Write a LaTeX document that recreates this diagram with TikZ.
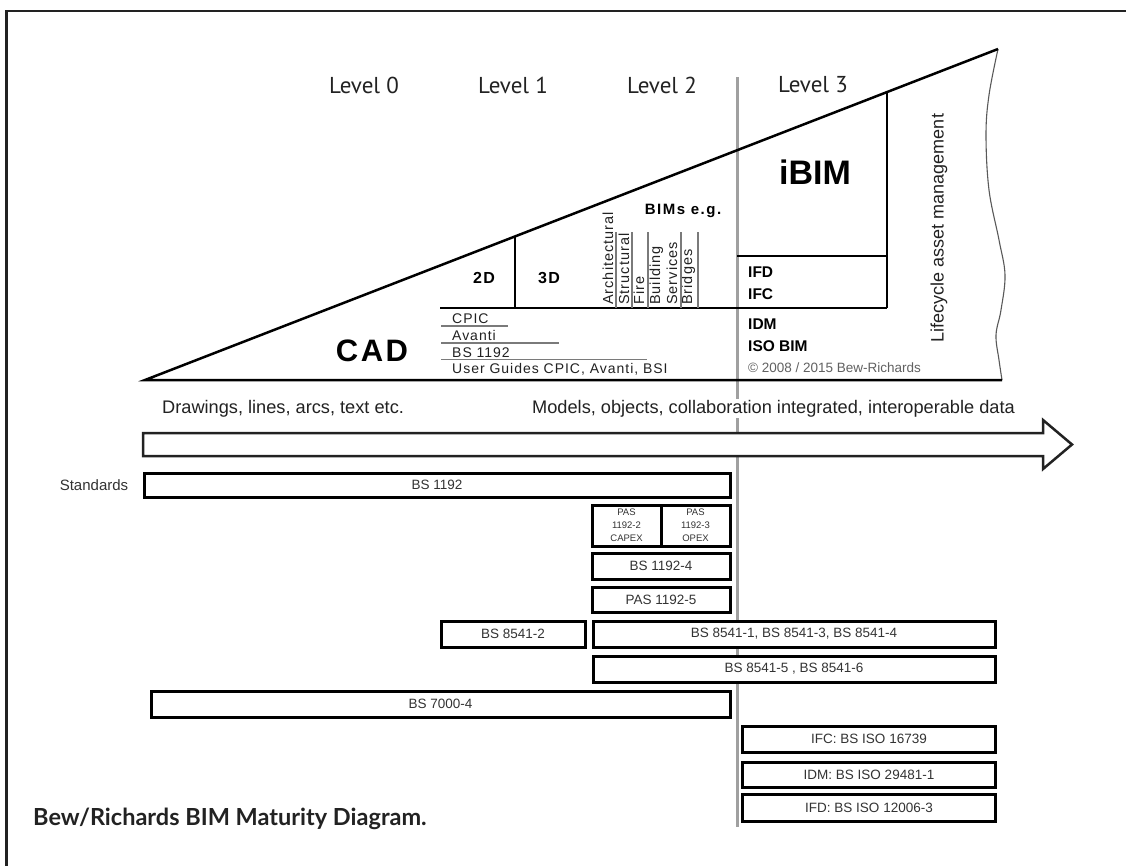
\documentclass[tikz,border=0pt]{standalone}
\usepackage{fontspec}
\setmainfont{Liberation Sans}
\newfontfamily\lvlfont{PT Sans}
\newfontfamily\capfont{Lato}
\newfontfamily\lsList[LetterSpace=7]{Liberation Sans}
\newfontfamily\lsBoldA[LetterSpace=8]{Liberation Sans}
\newfontfamily\lsBoldB[LetterSpace=10]{Liberation Sans}
\definecolor{inkdark}{HTML}{222222}
\definecolor{boxtext}{HTML}{333333}
\definecolor{levelgray}{HTML}{A0A0A0}
\definecolor{sepgray}{HTML}{7A7A7A}
\tikzset{
  framestyle/.style={draw=inkdark, line width=2.5pt},
  levelline/.style={draw=levelgray, line width=3pt},
  heavy/.style={draw=black, line width=2.5pt},
  sepline/.style={draw=sepgray, line width=1.1pt},
  ulline/.style={draw=sepgray, line width=1.2pt},
  wavy/.style={draw=black!65, line width=1.1pt},
  stdbox/.style={draw=black, line width=3pt, fill=white, inner sep=0pt,
    text=boxtext, font=\fontsize{13.5}{15}\selectfont},
  pasbox/.style={stdbox, align=center, font=\fontsize{9.5}{13}\selectfont},
  lvltext/.style={inner sep=0pt, text=inkdark, font=\lvlfont\fontsize{23}{26}\selectfont},
  listtext/.style={inner sep=0pt, anchor=base west, text=inkdark, font=\lsList\fontsize{14}{16}\selectfont},
  rottext/.style={inner sep=0pt, anchor=base west, rotate=90, text=inkdark, font=\lsList\fontsize{14.5}{16}\selectfont},
  boldsmall/.style={inner sep=0pt, anchor=base west, text=black, font=\bfseries\fontsize{15.5}{17}\selectfont},
  bigarrow/.style={draw=inkdark, line width=2.5pt, fill=white, line join=miter},
  bandtext/.style={inner sep=0pt, anchor=base west, text=inkdark, font=\fontsize{18.2}{20}\selectfont},
}
\begin{document}
\begin{tikzpicture}[x=1pt,y=-1pt]
\useasboundingbox (0,0) rectangle (1126,865);
\fill[white] (0,0) rectangle (1126,865);

% frame (top and left)
\coordinate (fr1) at (6.7,866);
\coordinate (fr2) at (6.7,11);
\coordinate (fr3) at (1127,11);
\draw[framestyle] (fr1) -- (fr2) -- (fr3);

% level divider
\coordinate (g1) at (737,77);
\coordinate (g2) at (737,827);
\draw[levelline] (g1) -- (g2);

% level labels
\node[lvltext] (lv0) at (364,85) {Level 0};
\node[lvltext] (lv1) at (513,85) {Level 1};
\node[lvltext] (lv2) at (662,85) {Level 2};
\node[lvltext] (lv3) at (813,85) {Level 3};

% triangle
\coordinate (tA) at (145,380);
\coordinate (tP) at (998,49);
\coordinate (tE) at (1002,380);
\draw[wavy] plot[smooth, tension=0.6] coordinates {(998,49) (989,95) (986,135) (989,190) (999,240) (1005,275) (1001,310) (996,335) (999,360) (1002,380)};
\draw[heavy, line join=miter] (tE) -- (tA) -- (tP);

% inner structure
\coordinate (h1a) at (440,308);
\coordinate (h1b) at (887,308);
\coordinate (v1t) at (515,236.4);
\coordinate (v1b) at (515,308);
\coordinate (v2t) at (887,92.1);
\coordinate (h2a) at (737,256);
\coordinate (h2b) at (887,256);
\draw[heavy] (h1a) -- (h1b);
\draw[heavy] (v1t) -- (v1b);
\draw[heavy] (v2t) -- (h1b);
\draw[heavy] (h2a) -- (h2b);

% CAD region
\node[inner sep=0pt, font=\lsBoldA\bfseries\fontsize{31}{34}\selectfont] (cad) at (372,351) {CAD};
\node[inner sep=0pt, font=\lsBoldA\bfseries\fontsize{16}{18}\selectfont] (d2) at (484,277.5) {2D};
\node[inner sep=0pt, font=\lsBoldA\bfseries\fontsize{16}{18}\selectfont] (d3) at (549,277.5) {3D};

% standards list under CAD
\node[listtext] (l1) at (452,323) {CPIC};
\node[listtext] (l2) at (452,340) {Avanti};
\node[listtext] (l3) at (452,357) {BS 1192};
\node[listtext] (l4) at (452,373) {User Guides CPIC, Avanti, BSI};
\coordinate (u1a) at (441,326); \coordinate (u1b) at (508,326);
\coordinate (u2a) at (441,343); \coordinate (u2b) at (559,343);
\coordinate (u3a) at (441,359.5); \coordinate (u3b) at (647,359.5);
\draw[ulline] (u1a) -- (u1b);
\draw[ulline] (u2a) -- (u2b);
\draw[ulline] (u3a) -- (u3b);

% BIM types
\node[inner sep=0pt, anchor=base, font=\lsBoldB\bfseries\fontsize{15}{17}\selectfont] (bims) at (683,214) {BIMs e.g.};
\node[rottext] (r1) at (613,305) {Architectural};
\node[rottext] (r2) at (629,305) {Structural};
\node[rottext] (r3) at (644,305) {Fire};
\node[rottext] (r4) at (660,305) {Building};
\node[rottext] (r5) at (677,305) {Services};
\node[rottext] (r6) at (692,305) {Bridges};
\foreach \sx/\nm in {616/s1,632/s2,648/s3,681/s4,698/s5}{
  \coordinate (\nm t) at (\sx,232);
  \coordinate (\nm b) at (\sx,308);
  \draw[sepline] (\nm t) -- (\nm b);
}

% Level 3 region
\node[inner sep=0pt, font=\bfseries\fontsize{34}{38}\selectfont] (ibim) at (815,172) {iBIM};
\node[boldsmall] (ifd) at (748,277) {IFD};
\node[boldsmall] (ifc) at (748,299) {IFC};
\node[boldsmall] (idm) at (748,329) {IDM};
\node[boldsmall] (isob) at (748,351) {ISO BIM};
\node[inner sep=0pt, anchor=base west, text=black!62, font=\fontsize{13.5}{15}\selectfont] (copy) at (748,372) {\textcopyright{} 2008 / 2015 Bew-Richards};
\node[inner sep=0pt, rotate=90, text=inkdark, font=\fontsize{18}{20}\selectfont] (life) at (939,228) {Lifecycle asset management};

% band texts and big arrow
\node[bandtext] (drw) at (162,413) {Drawings, lines, arcs, text etc.};
\node[bandtext, fill=white, inner sep=1pt] (mdl) at (531,413) {Models, objects, collaboration integrated, interoperable data};
\coordinate (a1) at (143,433);
\coordinate (a2) at (1043,433);
\coordinate (a3) at (1043,420);
\coordinate (a4) at (1072,444.5);
\coordinate (a5) at (1043,469);
\coordinate (a6) at (1043,456);
\coordinate (a7) at (143,456);
\draw[bigarrow] (a1) -- (a2) -- (a3) -- (a4) -- (a5) -- (a6) -- (a7) -- cycle;

% standards boxes
\node[inner sep=0pt, anchor=base, text=boxtext, font=\fontsize{15}{17}\selectfont] (stds) at (94,490) {Standards};
\node[stdbox, minimum width=586pt, minimum height=24pt] (bs1192) at (437,485) {BS 1192};
\node[pasbox, minimum width=69pt, minimum height=41pt] (pas2) at (626.5,525.5) {PAS\\1192-2\\CAPEX};
\node[pasbox, minimum width=69pt, minimum height=41pt] (pas3) at (695.5,525.5) {PAS\\1192-3\\OPEX};
\node[stdbox, minimum width=138pt, minimum height=26pt] (bs11924) at (661,566) {BS 1192-4};
\node[stdbox, minimum width=138pt, minimum height=25pt] (pas11925) at (661,599.5) {PAS 1192-5};
\node[stdbox, minimum width=144pt, minimum height=26pt] (bs85412) at (513,634) {BS 8541-2};
\node[stdbox, minimum width=402pt, minimum height=26pt] (bs85411) at (794,634) {BS 8541-1, BS 8541-3, BS 8541-4};
\node[stdbox, minimum width=402pt, minimum height=26pt] (bs85415) at (794,669) {BS 8541-5 , BS 8541-6};
\node[stdbox, minimum width=579pt, minimum height=26pt] (bs70004) at (440.5,704) {BS 7000-4};
\node[stdbox, minimum width=253pt, minimum height=26pt] (ifcbox) at (869,739) {IFC: BS ISO 16739};
\node[stdbox, minimum width=253pt, minimum height=25pt] (idmbox) at (869,774.5) {IDM: BS ISO 29481-1};
\node[stdbox, minimum width=253pt, minimum height=27pt] (ifdbox) at (869,807.5) {IFD: BS ISO 12006-3};

% caption
\node[inner sep=0pt, anchor=base west, text=inkdark, font=\capfont\bfseries\fontsize{23.5}{26}\selectfont] (cap) at (33,825) {Bew/Richards BIM Maturity Diagram.};
\end{tikzpicture}
\end{document}
